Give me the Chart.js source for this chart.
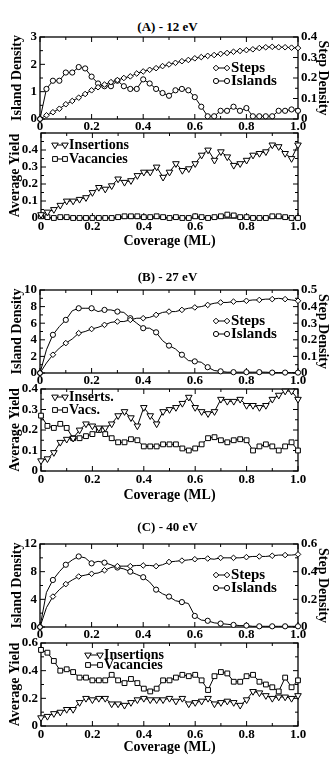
<!DOCTYPE html>
<html>
<head>
<meta charset="utf-8">
<script src="https://cdn.jsdelivr.net/npm/chart.js@4.4.1/dist/chart.umd.min.js"></script>
<style>
  body { margin: 0; background: #fff; }
  #fig { position: relative; width: 335px; height: 757px; }
  #fig canvas { position: absolute; left: 0; }
  .ttl { position: absolute; left: 0; width: 335px; text-align: center;
         font: bold 13px "Liberation Serif", serif; line-height: 16px; }
</style>
</head>
<body>
<div id="fig"></div>
<script>
// coverage (ML) sampled every 0.025
const coverage = [0,0.025,0.05,0.075,0.1,0.125,0.15,0.175,0.2,0.225,0.25,0.275,0.3,0.325,0.35,0.375,0.4,0.425,0.45,0.475,0.5,
  0.525,0.55,0.575,0.6,0.625,0.65,0.675,0.7,0.725,0.75,0.775,0.8,0.825,0.85,0.875,0.9,0.925,0.95,0.975,1];

const panelTitles = ['(A) - 12 eV', '(B) - 27 eV', '(C) - 40 eV'];

// (A) 12 eV
const islandsA = [0,1.1,1.4,1.4,1.7,1.7,1.9,1.85,1.55,1.3,1.2,1.2,1.4,1.2,1.1,1.1,1.45,1.3,1.1,0.95,0.85,
  1.05,1.1,1.05,0.8,0.45,0.1,0.1,0.3,0.3,0.45,0.3,0.4,0.1,0.1,0.1,0.1,0.3,0.3,0.35,0.3];
const stepsA = [0,.018,.033,.05,.072,.088,.104,.122,.14,.155,.168,.18,.19,.2,.208,.222,.232,.24,.248,.258,.266,
  .274,.282,.288,.296,.302,.308,.312,.318,.322,.328,.332,.336,.34,.346,.35,.352,.35,.35,.348,.346];
const insertionsA = [.02,.035,.05,.075,.1,.1,.11,.12,.15,.18,.17,.19,.23,.21,.22,.25,.27,.27,.3,.24,.27,
  .32,.28,.29,.32,.37,.4,.34,.39,.36,.31,.32,.34,.37,.38,.39,.43,.42,.38,.35,.43];
const vacanciesA = [.01,.005,0,.005,.005,0,0,0,0,0,0,0,.005,.01,.01,.01,.005,.005,.01,.005,0,
  .005,0,0,.01,.005,0,.005,.01,.02,.015,.005,.005,0,0,0,.01,.01,.005,0,0];

// (B) 27 eV
const islandsB = [0,2.8,4.6,5.6,6.4,7.5,7.8,7.8,7.8,7.4,7.6,7.6,7.4,7.3,6.6,6.0,5.4,5.4,4.9,3.9,3.3,
  2.9,2.2,1.5,1.4,1.3,0.7,0.3,0.2,0.1,0.1,0.1,0.1,0.1,0.1,0.1,0.05,0.05,0.05,0.05,0.05];
const stepsB = [0,.06,.11,.15,.18,.205,.24,.25,.265,.275,.29,.305,.31,.31,.32,.33,.33,.335,.35,.365,.37,
  .37,.38,.39,.395,.4,.41,.42,.425,.425,.43,.43,.435,.44,.44,.445,.445,.45,.445,.44,.435];
const insertionsB = [.05,.06,.09,.14,.155,.16,.2,.23,.22,.21,.21,.23,.27,.29,.26,.22,.31,.27,.23,.29,.3,
  .31,.33,.36,.31,.29,.28,.29,.35,.34,.34,.35,.32,.32,.31,.32,.35,.37,.39,.39,.35];
const vacanciesB = [.27,.22,.21,.23,.21,.16,.16,.17,.18,.2,.18,.16,.14,.14,.155,.15,.12,.12,.12,.13,.13,
  .13,.11,.1,.11,.13,.16,.165,.15,.14,.15,.155,.15,.1,.12,.13,.12,.1,.12,.14,.1];

// (C) 40 eV
const islandsC = [0,5.0,6.8,8.0,9.0,9.7,10.2,10.0,9.2,9.5,9.3,9.0,8.6,8.4,8.0,7.6,7.2,6.5,5.4,4.8,4.4,
  3.8,3.6,3.4,1.6,1.0,0.9,0.6,0.5,0.4,0.3,0.2,0.2,0.1,0.1,0.1,0.1,0.1,0.1,0.1,0.1];
const stepsC = [0,.14,.22,.27,.31,.34,.365,.375,.385,.39,.41,.43,.44,.44,.44,.445,.445,.445,.44,.45,.47,
  .475,.48,.485,.49,.495,.495,.49,.5,.5,.5,.5,.505,.51,.51,.51,.515,.52,.52,.52,.525];
const insertionsC = [.06,.07,.09,.1,.12,.12,.17,.2,.19,.2,.2,.16,.16,.15,.17,.19,.2,.19,.19,.19,.2,
  .18,.2,.16,.17,.18,.2,.16,.17,.18,.17,.15,.19,.25,.24,.22,.2,.21,.21,.2,.22];
const vacanciesC = [.55,.53,.47,.4,.41,.39,.35,.35,.33,.33,.33,.37,.33,.31,.34,.31,.27,.25,.27,.33,.33,
  .35,.37,.36,.37,.33,.26,.36,.39,.38,.32,.32,.36,.37,.32,.3,.28,.25,.35,.28,.33];

Chart.defaults.font.family = '"Liberation Serif", "Times New Roman", serif';
Chart.defaults.font.weight = 'bold';
Chart.defaults.font.size = 13;
Chart.defaults.color = '#000';

const W = 335;
const fig = document.getElementById('fig');

function pts(s) {
  return coverage.map((x, i) => ({x: x, y: s[i]}));
}

function fmt(v) {
  return String(Math.round(v * 100) / 100);
}

// box round the plot + inward ticks on all four sides
const frameTicks = {
  id: 'frameTicks',
  beforeDatasetsDraw(chart) {
    const {ctx, chartArea: a, scales} = chart;
    ctx.save();
    ctx.strokeStyle = '#000';
    ctx.lineWidth = 1.3;
    ctx.strokeRect(a.left, a.top, a.right - a.left, a.bottom - a.top);
    ctx.lineWidth = 1;
    ctx.beginPath();
    const mark = (scale, sides) => {
      const t = scale.ticks.map(k => k.value);
      t.forEach((v, i) => {
        const list = [[v, 5]];
        if (i < t.length - 1) list.push([(v + t[i + 1]) / 2, 3]);
        list.forEach(([val, len]) => {
          const p = scale.getPixelForValue(val);
          sides.forEach(s => {
            if (s === 'bottom') { ctx.moveTo(p, a.bottom); ctx.lineTo(p, a.bottom - len); }
            if (s === 'top') { ctx.moveTo(p, a.top); ctx.lineTo(p, a.top + len); }
            if (s === 'left') { ctx.moveTo(a.left, p); ctx.lineTo(a.left + len, p); }
            if (s === 'right') { ctx.moveTo(a.right, p); ctx.lineTo(a.right - len, p); }
          });
        });
      });
    };
    mark(scales.x, ['bottom', 'top']);
    mark(scales.y, scales.y2 ? ['left'] : ['left', 'right']);
    if (scales.y2) mark(scales.y2, ['right']);
    ctx.stroke();
    ctx.restore();
  }
};

// legend: marker - line - marker, then the label
const symLegend = {
  id: 'symLegend',
  afterDraw(chart, args, opts) {
    const {ctx, chartArea: a} = chart;
    ctx.save();
    ctx.font = opts.font;
    ctx.textBaseline = 'middle';
    opts.rows.forEach(r => {
      const ds = chart.data.datasets[r.ds];
      const y = a.top + r.dy;
      ctx.strokeStyle = '#000';
      ctx.lineWidth = 1;
      ctx.beginPath();
      ctx.moveTo(opts.x1, y);
      ctx.lineTo(opts.x2, y);
      ctx.stroke();
      [opts.x1, opts.x2].forEach(x => {
        ctx.fillStyle = '#fff';
        Chart.helpers.drawPoint(ctx, {pointStyle: ds.pointStyle, rotation: ds.pointRotation || 0,
          radius: r.r, borderWidth: 1}, x, y);
      });
      ctx.fillStyle = '#000';
      ctx.fillText(ds.label, opts.tx, y);
    });
    ctx.restore();
  }
};

function addCanvas(top, height) {
  const c = document.createElement('canvas');
  c.width = W;
  c.height = height;
  c.style.top = top + 'px';
  fig.appendChild(c);
  return c.getContext('2d');
}

function addTitle(text, y) {
  const d = document.createElement('div');
  d.className = 'ttl';
  d.style.top = (y - 8) + 'px';
  d.textContent = text;
  fig.appendChild(d);
}

function series(label, data, style, radius, every, axis, rot) {
  return {
    label: label,
    data: pts(data),
    yAxisID: axis,
    borderColor: '#000',
    borderWidth: 1,
    pointStyle: style,
    pointRotation: rot || 0,
    pointBackgroundColor: '#fff',
    pointBorderColor: '#000',
    pointBorderWidth: 1,
    pointRadius: ctx => (ctx.dataIndex % every === 0 ? radius : 0),
    tension: 0,
    clip: false
  };
}

function xScale(h, pad, withTitle) {
  return {
    type: 'linear', min: 0, max: 1,
    grid: {display: false, drawTicks: false}, border: {display: false},
    ticks: {stepSize: 0.2, padding: pad, maxRotation: 0, autoSkip: false},
    title: {display: withTitle, text: 'Coverage (ML)', font: {size: 14}, padding: {top: 0, bottom: 0}},
    afterFit: s => { s.height = h; }
  };
}

function yScale(max, step, title, tpad, pos, width) {
  return {
    type: 'linear', position: pos, min: 0, max: max,
    grid: {display: false, drawTicks: false}, border: {display: false},
    ticks: {stepSize: step, padding: 3, autoSkip: false,
      callback: v => (v > max - 1e-9 && max === 0.5 && pos === 'left' ? '' : fmt(v))},
    title: {display: true, text: title, font: {size: 14}, padding: {top: tpad, bottom: 0}},
    afterFit: s => { s.width = width; }
  };
}

// top plot: island density (left) + step density (right)
function topPlot(p) {
  const ctx = addCanvas(p.top - 17, p.bottom - p.top + 17 + 14);
  return new Chart(ctx, {
    type: 'line',
    data: {
      datasets: [
        series('Steps', p.steps, 'rectRot', 2.8, p.every, 'y2'),
        series('Islands', p.islands, 'circle', 2.6, p.every, 'y')
      ]
    },
    options: {
      responsive: false,
      animation: false,
      layout: {padding: {top: 17, left: 0, right: 0, bottom: 0}},
      scales: {
        x: xScale(14, 0, false),
        y: yScale(p.yMax, p.yStep, 'Island Density', 9, 'left', 40),
        y2: yScale(p.y2Max, p.y2Step, 'Step Density', 4, 'right', W - 298)
      },
      plugins: {
        legend: {display: false},
        tooltip: {enabled: false},
        symLegend: {font: 'bold 15px "Liberation Serif", serif', x1: 216, x2: 227, tx: 231,
          rows: [{ds: 0, dy: 31, r: 2.8}, {ds: 1, dy: 44, r: 2.6}]}
      }
    },
    plugins: [frameTicks, symLegend]
  });
}

// bottom plot: average yield of insertions and vacancies
function bottomPlot(p) {
  const ctx = addCanvas(p.top - 14, p.bottom - p.top + 14 + p.xh);
  return new Chart(ctx, {
    type: 'line',
    data: {
      datasets: [
        series(p.labels[0], p.ins, 'triangle', 3.8, 1, 'y', 180),
        series(p.labels[1], p.vac, 'rect', 3.4, 1, 'y')
      ]
    },
    options: {
      responsive: false,
      animation: false,
      layout: {padding: {top: 14, left: 0, right: W - 298, bottom: 0}},
      scales: {
        x: xScale(p.xh, 1, true),
        y: yScale(p.yMax, p.yStep, 'Average Yield', 7, 'left', 41)
      },
      plugins: {
        legend: {display: false},
        tooltip: {enabled: false},
        symLegend: {font: 'bold 14px "Liberation Serif", serif', x1: p.lx1, x2: p.lx2, tx: p.tx,
          rows: [{ds: 0, dy: p.dy[0], r: 3.8}, {ds: 1, dy: p.dy[1], r: 3.4}]}
      }
    },
    plugins: [frameTicks, symLegend]
  });
}

addTitle(panelTitles[0], 27);
topPlot({top: 37, bottom: 119, islands: islandsA, steps: stepsA, every: 1, yMax: 3, yStep: 1, y2Max: 0.4, y2Step: 0.1});
bottomPlot({top: 133, bottom: 218, xh: 32, ins: insertionsA, vac: vacanciesA, labels: ['Insertions', 'Vacancies'],
  yMax: 0.5, yStep: 0.1, lx1: 55, lx2: 65, tx: 69, dy: [12, 26]});

addTitle(panelTitles[1], 277);
topPlot({top: 290, bottom: 373, islands: islandsB, steps: stepsB, every: 2, yMax: 10, yStep: 2, y2Max: 0.5, y2Step: 0.1});
bottomPlot({top: 389, bottom: 471, xh: 33, ins: insertionsB, vac: vacanciesB, labels: ['Inserts.', 'Vacs.'],
  yMax: 0.4, yStep: 0.1, lx1: 55, lx2: 65, tx: 69, dy: [8, 21]});

addTitle(panelTitles[2], 527);
topPlot({top: 544, bottom: 627, islands: islandsC, steps: stepsC, every: 2, yMax: 12, yStep: 4, y2Max: 0.6, y2Step: 0.2});
bottomPlot({top: 643, bottom: 726, xh: 30, ins: insertionsC, vac: vacanciesC, labels: ['Insertions', 'Vacancies'],
  yMax: 0.6, yStep: 0.2, lx1: 88, lx2: 100, tx: 104, dy: [12, 22]});
</script>
</body>
</html>
